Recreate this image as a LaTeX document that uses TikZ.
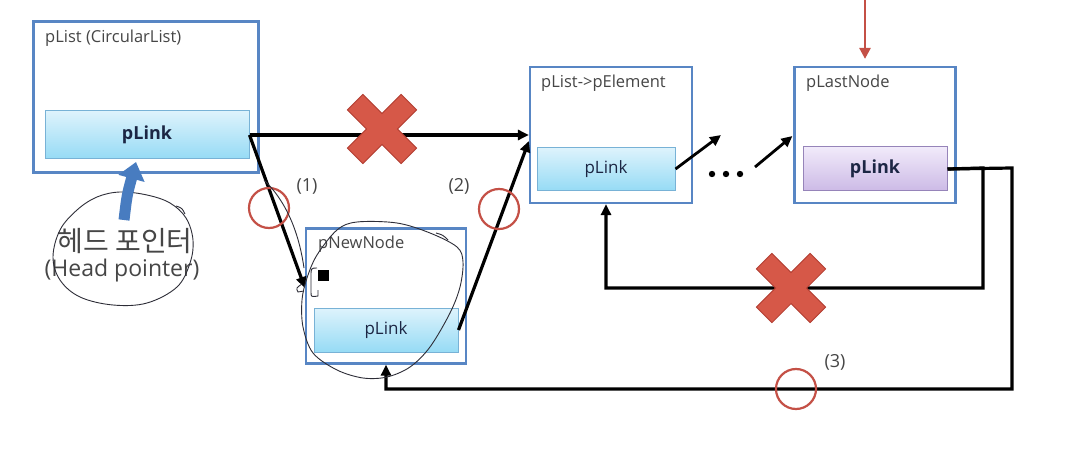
\documentclass[tikz,border=0pt]{standalone}
\usepackage{fontspec}
\setmainfont{Open Sans}
\newfontfamily\krfont{Noto Sans CJK KR}
\usetikzlibrary{arrows.meta,calc}
\definecolor{boxblue}{RGB}{88,134,196}
\definecolor{linktop}{RGB}{222,243,252}
\definecolor{linkbot}{RGB}{150,219,245}
\definecolor{linkedge}{RGB}{120,178,214}
\definecolor{purtop}{RGB}{241,234,250}
\definecolor{purbot}{RGB}{204,186,230}
\definecolor{puredge}{RGB}{150,132,185}
\definecolor{titlegray}{RGB}{70,70,70}
\definecolor{linktext}{RGB}{28,38,68}
\definecolor{crossfill}{RGB}{214,88,72}
\definecolor{crossedge}{RGB}{178,62,50}
\definecolor{okred}{RGB}{196,80,70}
\definecolor{headblue}{RGB}{72,124,192}
\definecolor{pencil}{RGB}{45,45,55}
\tikzset{
  outerbox/.style={draw=boxblue, line width=2.2pt, fill=white, inner sep=0pt},
  linkbox/.style={draw=linkedge, line width=1pt, top color=linktop, bottom color=linkbot, inner sep=0pt, text=linktext},
  lastbox/.style={draw=puredge, line width=1pt, top color=purtop, bottom color=purbot, inner sep=0pt, text=linktext},
  boxtitle/.style={anchor=north west, inner sep=0pt, text=titlegray, font=\fontsize{16.5}{18}\selectfont},
  steplabel/.style={inner sep=0pt, text=titlegray, font=\fontsize{18}{20}\selectfont},
  okmark/.style={circle, draw=okred, line width=2.2pt, minimum size=40pt, inner sep=0pt},
  conn/.style={line width=3.2pt, line join=miter, -{Triangle[length=11pt 0 0,width=10pt 0 0]}},
  pencilline/.style={draw=pencil, line width=0.9pt},
  xmark/.pic={\path[fill=crossfill, draw=crossedge, line width=0.8pt]
     (11,38)--(11,11)--(38,11)--(38,-11)--(11,-11)--(11,-38)--(-11,-38)--(-11,-11)
     --(-38,-11)--(-38,11)--(-11,11)--(-11,38)--cycle;}
}
\begin{document}
\begin{tikzpicture}[x=1pt,y=-1pt]
\useasboundingbox (0,0) rectangle (1071,449);
\fill[white] (0,0) rectangle (1071,449);

% boxes
\node[outerbox, minimum width=225pt, minimum height=151pt] (plbox) at (146,97) {};
\node[linkbox, minimum width=204pt, minimum height=48pt, font=\fontsize{18}{20}\selectfont\bfseries] (pllink) at (147,135) {pLink};
\node[boxtitle] (pltitle) at (45,30) {pList (CircularList)};

\node[outerbox, minimum width=162pt, minimum height=136pt] (pebox) at (611,135) {};
\node[linkbox, minimum width=138pt, minimum height=43pt, font=\fontsize{17}{19}\selectfont] (pelink) at (606,169) {pLink};
\node[boxtitle] (petitle) at (541,75) {pList->pElement};

\node[outerbox, minimum width=161pt, minimum height=136pt] (labox) at (875,135) {};
\node[lastbox, minimum width=144pt, minimum height=44pt, font=\fontsize{18}{20}\selectfont\bfseries] (lalink) at (875,169) {pLink};
\node[boxtitle] (latitle) at (806,75) {pLastNode};

\node[outerbox, minimum width=160pt, minimum height=135pt] (pnbox) at (386,296) {};
\node[linkbox, minimum width=144pt, minimum height=44pt, font=\fontsize{17}{19}\selectfont] (pnlink) at (386,330) {pLink};
\node[boxtitle] (pntitle) at (318,236) {pNewNode};

% head pointer text
\node[inner sep=0pt, text=titlegray, font=\krfont\fontsize{28}{30}\selectfont] (hdkr) at (125,241) {헤드 포인터};
\node[inner sep=0pt, text=titlegray, font=\fontsize{23}{25}\selectfont] (hden) at (122,271) {(Head pointer)};

% hand-drawn loop around head pointer
\draw[pencilline] plot[smooth cycle, tension=0.6] coordinates {
 (120,192) (147,195) (170,203) (186,218) (193,240) (190,263) (177,287) (147,303)
 (113,305) (80,297) (60,280) (53,257) (60,230) (77,210) (97,197)};
\draw[pencilline] (176,206) .. controls (182,208) .. (185,214);

% blue head arrow
\draw[headblue, line width=11pt, -{Triangle[length=17pt 0 0, width=26pt 0 0]}] (124,220) .. controls (127,195) .. (136,162);

% coordinates
\coordinate (peinA) at (pebox.west |- pllink.east);
\coordinate (peinB) at ($(pebox.west)+(0,6)$);
\coordinate (pnin) at ($(pnbox.west)+(0,-8)$);
\coordinate (dotsA) at (721,135);
\coordinate (dotsB) at (755,167);
\coordinate (laIn) at ($(labox.west)+(-1,1)$);
\coordinate (bendA) at (983,168);
\coordinate (bendB) at (983,288);
\coordinate (bendC) at (1012,168);
\coordinate (bendD) at (1012,389);
\coordinate (topstart) at (865,-2);

% connectors
\draw[conn] (pllink.east) -- (peinA);
\draw[conn] (pllink.east) -- (pnin);
\draw[conn] (pnlink.east) -- (peinB);
\draw[conn, line width=2.8pt] (pelink.east) -- (dotsA);
\draw[conn, line width=2.8pt] (dotsB) -- (laIn);
\draw[conn] (lalink.east) -- (bendA) -- (bendB) -- (bendB -| pelink.south) -- (pelink.south |- pebox.south);
\draw[conn] (lalink.east) -- (bendC) -- (bendD) -- (bendD -| pnbox.south) -- (pnbox.south);
\draw[okred, line width=2.6pt, shorten >=7pt, -{Triangle[length=11pt 0 0,width=11pt 0 0]}] (topstart) -- (topstart |- labox.north);

% dots
\fill (712,174) circle (3.2pt);
\fill (726,174) circle (3.2pt);
\fill (740,174) circle (3.2pt);

% crosses
\pic[rotate=45] at (382,129) {xmark};
\pic[rotate=45] at (791,288) {xmark};

% ok circles and step labels
\node[okmark] (ok1) at (269,208) {};
\node[okmark] (ok2) at (499,209) {};
\node[okmark] (ok3) at (796,389) {};
\node[steplabel] (lab1) at (307,186) {(1)};
\node[steplabel] (lab2) at (459,186) {(2)};
\node[steplabel] (lab3) at (835,362) {(3)};

% pencil marks around pNewNode
\draw[pencilline] plot[smooth cycle, tension=0.55] coordinates {
 (337,230) (357,222) (397,223) (430,233) (457,247) (463,262) (460,287) (450,313)
 (430,347) (410,367) (387,377) (363,378) (337,370) (313,353) (303,327) (302,300)
 (307,278) (317,255)};
\draw[pencilline] (436,233) .. controls (443,235) .. (448,240);
\draw[pencilline] (264,180) .. controls (290,205) and (300,240) .. (304,268);
\draw[pencilline] (317,268) .. controls (311,268) .. (311,276) -- (311,292) .. controls (311,297) .. (318,296) -- (318,290);
\draw[pencilline] (302,284) .. controls (296,288) .. (298,292) -- (304,291);
\fill (318,270) rectangle (329,281);
\end{tikzpicture}
\end{document}
